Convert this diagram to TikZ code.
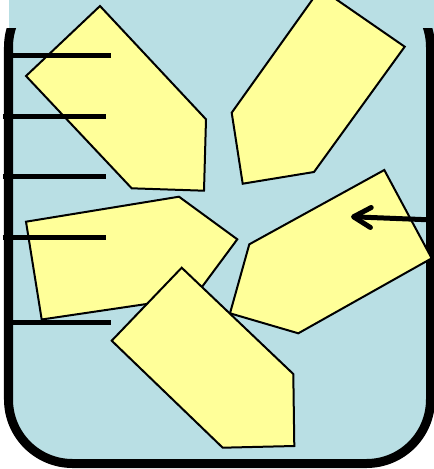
\documentclass[tikz,border=0pt]{standalone}
\usepackage{tikz}
\usetikzlibrary{arrows.meta}
\definecolor{mizu}{RGB}{185,223,228}
\definecolor{kiiro}{RGB}{255,255,153}

\begin{document}
\begin{tikzpicture}[x=0.75pt,y=-0.75pt,
  piece/.style={draw=black,line width=1.5pt,fill=kiiro},
  wall/.style={line width=6.75pt},
  tick/.style={line width=3.75pt}]
  \useasboundingbox (0,0) rectangle (434,469);
  \fill[mizu] (8.5,0) rectangle (434,40);
  \fill[mizu,rounded corners=48pt] (8.5,-17) rectangle (430.5,463.5);
  \begin{scope} % 容器：上は開いている
    \clip (0,28) rectangle (440,475);
    \draw[wall,rounded corners=48pt] (8.5,-17) rectangle (430.5,463.5);
  \end{scope}
  \draw[piece] (100,6) -- (26,76) -- (131.7,188.3) -- (204,190.7) -- (206,119.3) -- cycle;
  \draw[piece] (320.4,-11.6) -- (231.7,112.7) -- (242.7,183.7) -- (314,172) -- (404.7,46.7) -- cycle;
  \draw[piece] (26,221.7) -- (41.7,319.5) -- (194.6,296.9) -- (237.3,239.3) -- (179,196.7) -- cycle;
  \draw[piece] (384.3,170) -- (249.3,244.3) -- (230,313.3) -- (298.3,333.3) -- (431.7,258.3) -- cycle;
  \draw[piece] (181.7,267.7) -- (111.7,340.7) -- (222.7,447.7) -- (294.3,446) -- (293.3,374) -- cycle;
  \draw[tick] (12,55.5) -- (110.5,55.5);
  \draw[tick] (3,116) -- (105.5,116);
  \draw[tick] (3,176.5) -- (105.5,176.5);
  \draw[tick] (3,237.3) -- (105.5,237.3);
  \draw[tick] (12,322.3) -- (110.5,322.3);
  \coordinate (rim) at (434,220);
  \coordinate (pin) at (351,216.7);
  \draw[tick,-{Straight Barb[length=13pt,width=15pt,round]}] (rim) -- (pin);
\end{tikzpicture}
\end{document}
